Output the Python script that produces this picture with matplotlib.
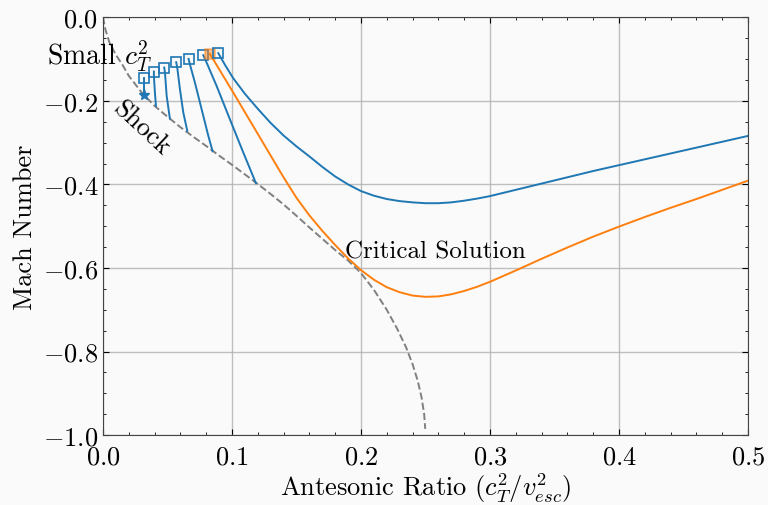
"""
Soluciones de Mach vs razón antesónica, con la curva de choque y la solución crítica.
"""

import matplotlib
matplotlib.use("Agg")
import matplotlib.pyplot as plt
from matplotlib.ticker import AutoMinorLocator

plt.rcParams["font.family"] = "serif"
plt.rcParams["font.serif"] = ["cmr10"]
plt.rcParams["mathtext.fontset"] = "cm"
plt.rcParams["axes.formatter.use_mathtext"] = True

BLUE = "#1f77b4"
ORANGE = "#ff7f0e"

# Curva de choque (línea discontinua)
shock_x = [0.0, 0.002, 0.005, 0.010, 0.015, 0.020, 0.030, 0.040, 0.050, 0.060,
           0.070, 0.080, 0.090, 0.100, 0.110, 0.120, 0.130, 0.140, 0.150, 0.160,
           0.170, 0.180, 0.190, 0.200, 0.210, 0.220, 0.228, 0.235, 0.240, 0.244,
           0.247, 0.249, 0.2498]
shock_y = [-0.000, -0.030, -0.060, -0.090, -0.113, -0.140, -0.180, -0.212, -0.238,
           -0.263, -0.286, -0.308, -0.331, -0.353, -0.376, -0.399, -0.423, -0.448,
           -0.475, -0.503, -0.530, -0.557, -0.582, -0.612, -0.652, -0.700, -0.745,
           -0.790, -0.830, -0.870, -0.910, -0.950, -0.985]

# Soluciones cortas (terminan en el choque)
short_x = [
    [0.0318, 0.0318],
    [0.0395, 0.0395, 0.0403, 0.0411],
    [0.0475, 0.0481, 0.0494, 0.0519],
    [0.0568, 0.0576, 0.0597, 0.0623, 0.0654],
    [0.0664, 0.0674, 0.0713, 0.0765, 0.0817, 0.0850],
    [0.0778, 0.0798, 0.0881, 0.0984, 0.1088, 0.1186],
]
short_y = [
    [-0.1443, -0.185],
    [-0.1300, -0.1403, -0.1802, -0.2121],
    [-0.1204, -0.1324, -0.1882, -0.2424],
    [-0.1077, -0.1204, -0.1722, -0.2281, -0.2719],
    [-0.0997, -0.1124, -0.1563, -0.2201, -0.2839, -0.3206],
    [-0.0909, -0.1045, -0.1643, -0.2440, -0.3238, -0.3971],
]

# Solución larga (azul)
long_x = [0.0894, 0.095, 0.101, 0.110, 0.120, 0.130, 0.140, 0.150, 0.160, 0.170,
          0.180, 0.190, 0.200, 0.210, 0.220, 0.230, 0.240, 0.250, 0.260, 0.270,
          0.280, 0.290, 0.300, 0.320, 0.340, 0.360, 0.380, 0.400, 0.420, 0.440,
          0.460, 0.480, 0.500]
long_y = [-0.086, -0.116, -0.146, -0.183, -0.219, -0.253, -0.283, -0.309, -0.333,
          -0.358, -0.381, -0.400, -0.416, -0.427, -0.435, -0.440, -0.443, -0.445,
          -0.445, -0.443, -0.439, -0.434, -0.428, -0.413, -0.398, -0.383, -0.368,
          -0.354, -0.340, -0.326, -0.312, -0.298, -0.284]

# Solución crítica (naranja)
crit_x = [0.083, 0.090, 0.100, 0.110, 0.120, 0.130, 0.140, 0.150, 0.160, 0.170,
          0.180, 0.190, 0.200, 0.210, 0.220, 0.230, 0.240, 0.250, 0.260, 0.270,
          0.280, 0.290, 0.300, 0.320, 0.340, 0.360, 0.380, 0.400, 0.420, 0.440,
          0.460, 0.480, 0.500]
crit_y = [-0.088, -0.124, -0.175, -0.227, -0.279, -0.331, -0.383, -0.432, -0.474,
          -0.511, -0.545, -0.577, -0.605, -0.628, -0.646, -0.658, -0.666, -0.669,
          -0.668, -0.663, -0.655, -0.645, -0.633, -0.606, -0.578, -0.551, -0.525,
          -0.501, -0.478, -0.456, -0.435, -0.413, -0.391]

fig = plt.figure(figsize=(7.68, 5.06), dpi=100, facecolor="#fafafa")
ax = fig.add_axes([0.134, 0.138, 0.840, 0.826], facecolor="#fafafa")

ax.plot(shock_x, shock_y, ls="--", color="#808080", lw=1.4)

for xs, ys in zip(short_x, short_y):
    ax.plot(xs, ys, color=BLUE, lw=1.4)
    ax.plot(xs[0], ys[0], marker="s", ms=7, mfc="none", mec=BLUE, mew=1.2)

ax.plot(short_x[0][-1], short_y[0][-1], marker="*", ms=8, color=BLUE)

ax.plot(crit_x, crit_y, color=ORANGE, lw=1.4)
ax.plot(crit_x[0], crit_y[0], marker="s", ms=7, mfc=ORANGE, mec=ORANGE,
        mew=1.2, alpha=0.5)

ax.plot(long_x, long_y, color=BLUE, lw=1.4)
ax.plot(long_x[0], long_y[0], marker="s", ms=7, mfc="none", mec=BLUE, mew=1.2)

ax.text(-0.043, -0.112, "Small $c_T^2$", fontsize=20)
ax.text(0.03, -0.265, "Shock", fontsize=19, rotation=-43,
        ha="center", va="center")
ax.text(0.1876, -0.574, "Critical Solution", fontsize=18)

ax.set_xlim(0.0, 0.5)
ax.set_ylim(-1.0, 0.0)
ax.set_xlabel(r"Antesonic Ratio ($c_T^2/v_{esc}^2$)", fontsize=19, labelpad=1)
ax.set_ylabel("Mach Number", fontsize=19)

ax.xaxis.set_minor_locator(AutoMinorLocator())
ax.yaxis.set_minor_locator(AutoMinorLocator())
ax.tick_params(which="both", direction="in", top=True, right=True, labelsize=19)
ax.tick_params(which="major", length=4)
ax.tick_params(which="minor", length=2.5)
ax.tick_params(axis="x", pad=7)
ax.grid(color="#b0b0b0", lw=1.0, alpha=0.8)

for s in ax.spines.values():
    s.set_color("#444444")

fig.savefig("out.png", dpi=100, facecolor=fig.get_facecolor())
